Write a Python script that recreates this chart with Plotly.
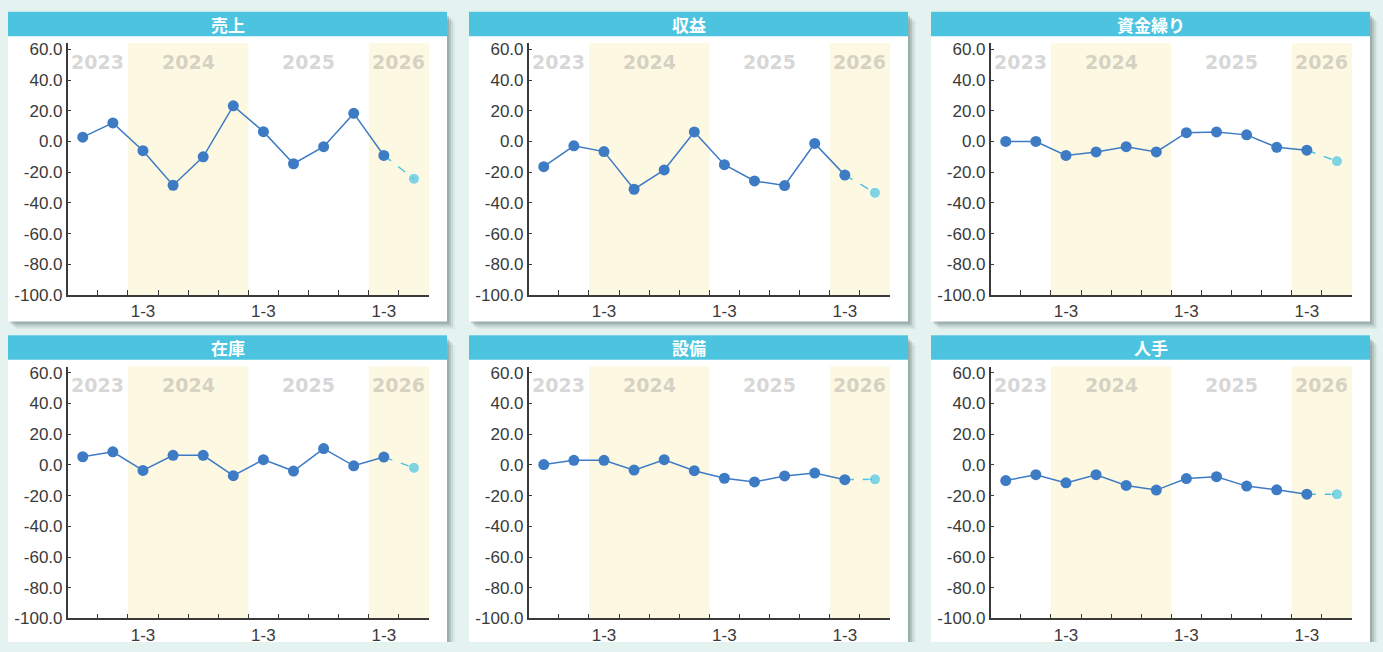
"""Business survey DI panels: six small-multiple line charts by quarter."""

import plotly.graph_objects as go

# ---- data -----------------------------------------------------------------
quarters = ["7-9", "10-12", "1-3", "4-6", "7-9", "10-12",
            "1-3", "4-6", "7-9", "10-12", "1-3", "4-6"]
period_years = [2023, 2023, 2024, 2024, 2024, 2024,
                2025, 2025, 2025, 2025, 2026, 2026]
periods = [f"{y}/{q}" for y, q in zip(period_years, quarters)]

y_ticks = [-100, -80, -60, -40, -20, 0, 20, 40, 60]

titles = ["売上", "収益", "資金繰り", "在庫", "設備", "人手"]

# actual values (first 11 periods) and the forecast for the last period
sales = [2.8, 12.1, -6.0, -28.5, -10.0, 23.2, 6.4, -14.5, -3.4, 18.3, -9.1]
sales_fc = -24.3
profit = [-16.4, -2.8, -6.6, -31.1, -18.5, 6.2, -15.1, -25.7, -28.7, -1.3, -21.9]
profit_fc = -33.4
cash = [0.0, 0.0, -9.1, -6.8, -3.4, -6.8, 5.7, 6.2, 4.3, -3.8, -5.7]
cash_fc = -12.8
inventory = [5.3, 8.5, -3.6, 6.2, 6.2, -7.0, 3.4, -4.0, 10.6, -0.6, 5.1]
inventory_fc = -1.9
equipment = [0.2, 3.0, 3.0, -3.4, 3.4, -3.8, -8.7, -11.1, -7.2, -5.3, -9.6]
equipment_fc = -9.4
labor = [-10.2, -6.4, -11.7, -6.4, -13.4, -16.4, -8.9, -7.7, -13.8, -16.2, -19.1]
labor_fc = -19.1

series = [(sales, sales_fc), (profit, profit_fc), (cash, cash_fc),
          (inventory, inventory_fc), (equipment, equipment_fc), (labor, labor_fc)]

# ---- styling --------------------------------------------------------------
W, H = 1383, 652
BG = "#e4f3ef"
BAR = "#4dc4df"
LINE = "#3d7bc4"
FC = "#4cc4e0"
BAND = "#fdf8e1"
AXIS = "#3a3a3a"
TICK_FONT = dict(family="Liberation Sans, Arial", size=17, color="#3a3a3a")

CARD_X = [8, 469, 931]
CARD_Y = [9, 339]
CARD_W, CARD_H, BAR_H = 439, 316, 25
PLOT_DX, PLOT_W = 59.7, 361.3
PLOT_DY, PLOT_H = 32, 257


def px_x(x):
    return x / W


def px_y(y):
    # clamp to the page so nothing spills past the bottom edge
    return 1 - min(y, H) / H


fig = go.Figure()
shapes, annotations = [], []

# year groups -> first/last index
groups = []
for i, yr in enumerate(period_years):
    if groups and groups[-1][0] == yr:
        groups[-1][2] = i
    else:
        groups.append([yr, i, i])

for k, (title, (vals, fc)) in enumerate(zip(titles, series)):
    row, col = divmod(k, 3)
    cx, cy = CARD_X[col], CARD_Y[row]
    sfx = "" if k == 0 else str(k + 1)
    xa, ya = "x" + sfx, "y" + sfx

    # card shadow, card, title bar
    for off, op in [(8, 0.06), (6, 0.12), (4, 0.18), (2, 0.22)]:
        shapes.append(dict(type="rect", xref="paper", yref="paper", layer="below",
                           x0=px_x(cx + off), x1=px_x(cx + CARD_W + off),
                           y0=px_y(cy + CARD_H + off), y1=px_y(cy + off + 2),
                           fillcolor=f"rgba(70,95,95,{op})", line_width=0))
    shapes.append(dict(type="rect", xref="paper", yref="paper", layer="below",
                       x0=px_x(cx), x1=px_x(cx + CARD_W),
                       y0=px_y(cy + CARD_H), y1=px_y(cy),
                       fillcolor="white", line_width=0))
    shapes.append(dict(type="rect", xref="paper", yref="paper", layer="below",
                       x0=px_x(cx), x1=px_x(cx + CARD_W),
                       y0=px_y(cy + BAR_H), y1=px_y(cy),
                       fillcolor=BAR, line_width=0))
    annotations.append(dict(xref="paper", yref="paper", x=px_x(cx + CARD_W / 2),
                            y=px_y(cy + BAR_H / 2), text=f"<b>{title}</b>",
                            showarrow=False, xanchor="center", yanchor="middle",
                            font=dict(family="Noto Sans CJK JP", size=17, color="white")))

    # alternating year bands and year labels
    for g, (yr, i0, i1) in enumerate(groups):
        if g % 2 == 1:
            shapes.append(dict(type="rect", xref=xa, yref=ya + " domain", layer="below",
                               x0=i0 - 0.5, x1=i1 + 0.5, y0=0, y1=1,
                               fillcolor=BAND, line_width=0))
        annotations.append(dict(xref=xa, yref=ya + " domain", x=(i0 + i1) / 2, y=0.926,
                                text=f"<b>{yr}</b>", showarrow=False,
                                xanchor="center", yanchor="middle",
                                font=dict(family="DejaVu Sans", size=19,
                                          color="rgba(140,140,140,0.36)")))

    # forecast segment (dashed) then actual line on top
    fig.add_trace(go.Scatter(
        x=periods[len(vals) - 1:], y=[vals[-1], fc], xaxis=xa, yaxis=ya,
        mode="lines+markers", line=dict(color=FC, width=1.5, dash="dash"),
        marker=dict(size=[0, 11], color=FC), hoverinfo="skip", showlegend=False))
    fig.add_trace(go.Scatter(
        x=periods[:len(vals)], y=vals, xaxis=xa, yaxis=ya,
        mode="lines+markers", line=dict(color=LINE, width=1.5),
        marker=dict(size=11, color=LINE), showlegend=False))

    x0 = cx + PLOT_DX
    y0 = cy + PLOT_DY
    fig.layout["xaxis" + sfx] = dict(
        domain=[px_x(x0), px_x(x0 + PLOT_W)], anchor=ya,
        type="category", categoryorder="array", categoryarray=periods,
        range=[-0.5, len(periods) - 0.5], tickson="boundaries",
        tickvals=periods[:-1],
        ticktext=[q if q == "1-3" else "" for q in quarters[:-1]],
        tickangle=0,
        ticks="inside", ticklen=5, tickwidth=1.2, tickcolor=AXIS,
        showline=True, linecolor=AXIS, linewidth=1.5,
        showgrid=False, zeroline=False, tickfont=TICK_FONT, fixedrange=True)
    fig.layout["yaxis" + sfx] = dict(
        domain=[px_y(y0 + PLOT_H), px_y(y0)], anchor=xa,
        range=[-100, 64], tickvals=y_ticks,
        ticktext=[f"{v:.1f}" for v in y_ticks],
        ticks="inside", ticklen=4, tickwidth=1.2, tickcolor=AXIS,
        showline=True, linecolor=AXIS, linewidth=1.5,
        showgrid=False, zeroline=False, tickfont=TICK_FONT, fixedrange=True)

fig.update_layout(
    width=W, height=H, autosize=False,
    margin=dict(l=0, r=0, t=0, b=0),
    paper_bgcolor=BG, plot_bgcolor="rgba(0,0,0,0)",
    shapes=shapes, annotations=annotations,
)

# drop the default 8px body margin so the figure sits flush with the window
page_js = "document.body.style.margin='0';document.body.style.overflow='hidden';"
fig.write_html("out.html", config={"displayModeBar": False}, post_script=page_js)
